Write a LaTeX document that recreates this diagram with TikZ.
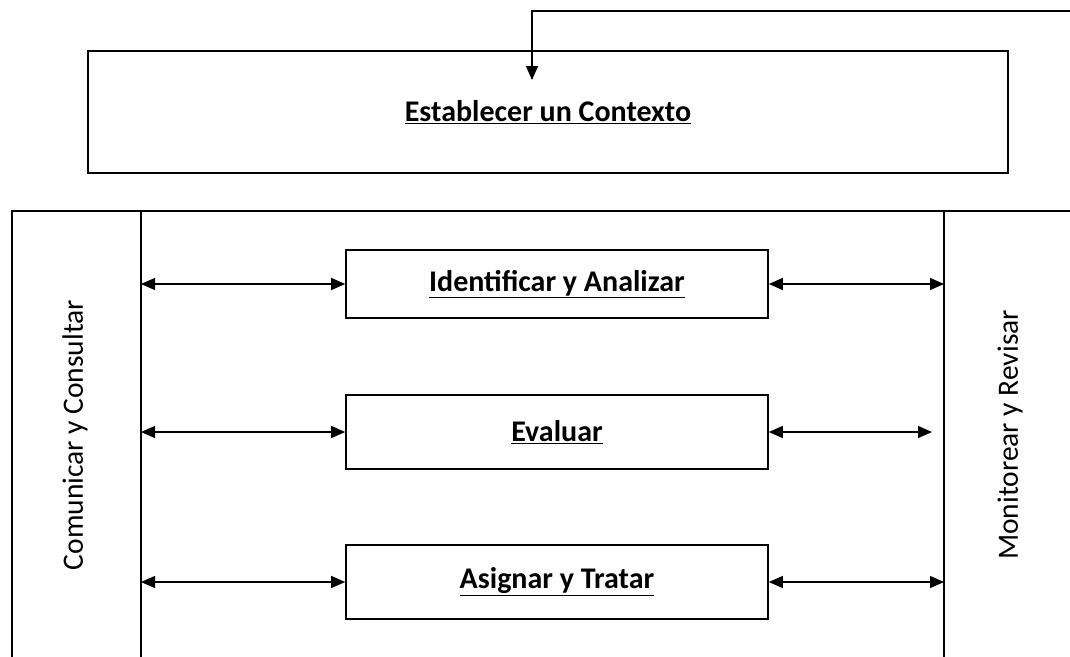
\documentclass[tikz,border=0pt]{standalone}
\usepackage{fontspec}
\setmainfont{Carlito}
\usetikzlibrary{arrows.meta}
\begin{document}
\begin{tikzpicture}[x=1pt,y=-1pt,
  boxline/.style={line width=1.6pt},
  procbox/.style={draw,line width=1.6pt,minimum width=422pt,minimum height=68pt,inner sep=0pt,font=\bfseries\fontsize{30}{36}\selectfont},
  sidetxt/.style={rotate=90,font=\fontsize{29.5}{36}\selectfont,inner sep=0pt},
  conn/.style={line width=1.2pt,{Triangle[length=14pt,width=12pt]}-{Triangle[length=14pt,width=12pt]}},
  feed/.style={line width=1.2pt,-{Triangle[length=14pt,width=12pt]}}]
\useasboundingbox (0,0) rectangle (1070,656);
% context box
\node[draw,line width=1.6pt,minimum width=920pt,minimum height=122pt,inner sep=0pt,font=\bfseries\fontsize{30}{36}\selectfont] (ctx) at (548,112) {\underline{Establecer un Contexto}};
% feedback line
\coordinate (fr) at (1072,11);
\coordinate (fc) at (532,11);
\coordinate (ft) at (532,80);
\draw[feed] (fr) -- (fc) -- (ft);
% outer frame
\coordinate (tl) at (12,211);
\coordinate (tr) at (1072,211);
\coordinate (bl) at (12,660);
\draw[boxline] (tr) -- (tl) -- (bl);
\coordinate (lt) at (141,211);
\coordinate (lb) at (141,660);
\coordinate (rt) at (944,211);
\coordinate (rb) at (944,660);
\draw[boxline] (lt) -- (lb);
\draw[boxline] (rt) -- (rb);
% side labels
\node[sidetxt] (com) at (75,435) {Comunicar y Consultar};
\node[sidetxt] (mon) at (1010,435) {Monitorear y Revisar};
% process boxes
\node[procbox] (ia) at (557,284) {\underline{Identificar y Analizar}};
\node[procbox,minimum height=74pt] (ev) at (557,432) {\underline{Evaluar}};
\node[procbox,minimum height=74pt] (at) at (557,582) {\underline{Asignar y Tratar}};
% connectors
\coordinate (l1) at (141,284);
\coordinate (r1) at (944,284);
\coordinate (l2) at (141,432);
\coordinate (r2) at (932,432);
\coordinate (l3) at (141,582);
\coordinate (r3) at (944,582);
\draw[conn] (l1) -- (ia.west);
\draw[conn] (ia.east) -- (r1);
\draw[conn] (l2) -- (ev.west);
\draw[conn] (ev.east) -- (r2);
\draw[conn] (l3) -- (at.west);
\draw[conn] (at.east) -- (r3);
\end{tikzpicture}
\end{document}
